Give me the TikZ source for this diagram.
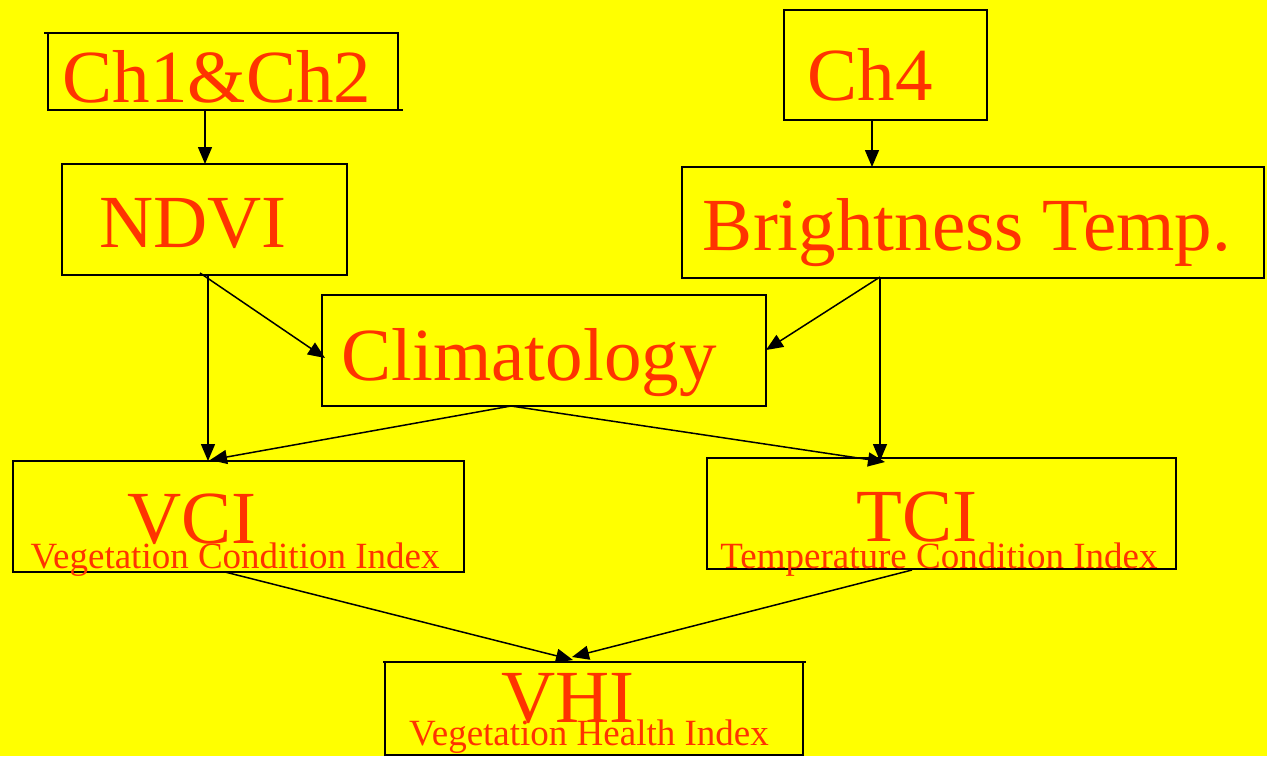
\documentclass[tikz,border=0pt]{standalone}
\usepackage{fontspec}
\setmainfont{Liberation Serif}
\usetikzlibrary{arrows.meta,calc}
\definecolor{bgyellow}{RGB}{255,255,0}
\definecolor{txtred}{RGB}{255,51,0}
\begin{document}
\begin{tikzpicture}[x=1pt,y=-1pt,
  box/.style={draw=black,line width=1.5pt,inner sep=0,outer sep=0,anchor=north west},
  big/.style={text=txtred,font=\fontsize{75}{80}\selectfont,inner sep=0,anchor=base},
  small/.style={text=txtred,font=\fontsize{37}{40}\selectfont,inner sep=0,anchor=base},
  conn/.style={draw=black,line width=1.5pt,-{Triangle[length=17pt,width=14pt]}},
  edge/.style={draw=black,line width=1.5pt}
]
\fill[bgyellow] (0,0) rectangle (1267,756);
\useasboundingbox (0,0) rectangle (1267,756);

% boxes
\node[box,minimum width=350,minimum height=77] (ch12) at (48,33) {};
\node[box,minimum width=203,minimum height=110] (ch4) at (784,10) {};
\node[box,minimum width=285,minimum height=111] (ndvi) at (62,164) {};
\node[box,minimum width=582,minimum height=111] (bt) at (682,167) {};
\node[box,minimum width=444,minimum height=111] (clim) at (322,295) {};
\node[box,minimum width=451,minimum height=111] (vci) at (13,461) {};
\node[box,minimum width=469,minimum height=111] (tci) at (707,458) {};
\node[box,minimum width=418,minimum height=93] (vhi) at (385,662) {};

% small overshoots of hand-drawn edges
\draw[edge] ($(ch12.north west)+(-4,0)$) -- (ch12.north west);
\draw[edge] (ch12.south east) -- ($(ch12.south east)+(5,0)$);
\draw[edge] ($(vhi.north west)+(-2,0)$) -- (vhi.north west);
\draw[edge] (vhi.north east) -- ($(vhi.north east)+(3,0)$);

% texts
\node[big] (t-ch12) at (217,102) {Ch1\&Ch2};
\node[big] (t-ch4) at (870,100) {Ch4};
\node[big] (t-ndvi) at (193,247) {NDVI};
\node[big] (t-bt) at (967,250) {Brightness Temp.};
\node[big] (t-clim) at (529,380) {Climatology};
\node[big] (t-vci) at (192,543) {VCI};
\node[small] (s-vci) at (235,568) {Vegetation Condition Index};
\node[big] (t-tci) at (917,541) {TCI};
\node[small] (s-tci) at (939,568) {Temperature Condition Index};
\node[big] (t-vhi) at (568,722) {VHI};
\node[small] (s-vhi) at (589,745) {Vegetation Health Index};

% connectors
\draw[conn] ($(ch12.south west)+(157,0)$) -- ($(ndvi.north west)+(143,0)$);
\draw[conn] ($(ch4.south west)+(88,0)$) -- ($(bt.north west)+(190,0)$);
\draw[conn] ($(ndvi.south west)+(138,-2)$) -- ($(clim.south west)+(3,-48)$);
\draw[conn] ($(ndvi.south west)+(146,0)$) -- ($(vci.north west)+(195,0)$);
\draw[conn] ($(bt.south west)+(198,-1)$) -- ($(clim.north east)+(0,55)$);
\draw[conn] ($(bt.south west)+(198,-1)$) -- ($(tci.north west)+(173,3)$);
\draw[conn] ($(clim.south west)+(189,0)$) -- ($(vci.north west)+(197,-1)$);
\draw[conn] ($(clim.south west)+(189,0)$) -- ($(tci.north west)+(178,4)$);
\draw[conn] ($(vci.south west)+(212,0)$) -- ($(vhi.north west)+(188,-2)$);
\draw[conn] ($(tci.south west)+(205,1)$) -- ($(vhi.north west)+(187,-5)$);
\end{tikzpicture}
\end{document}
